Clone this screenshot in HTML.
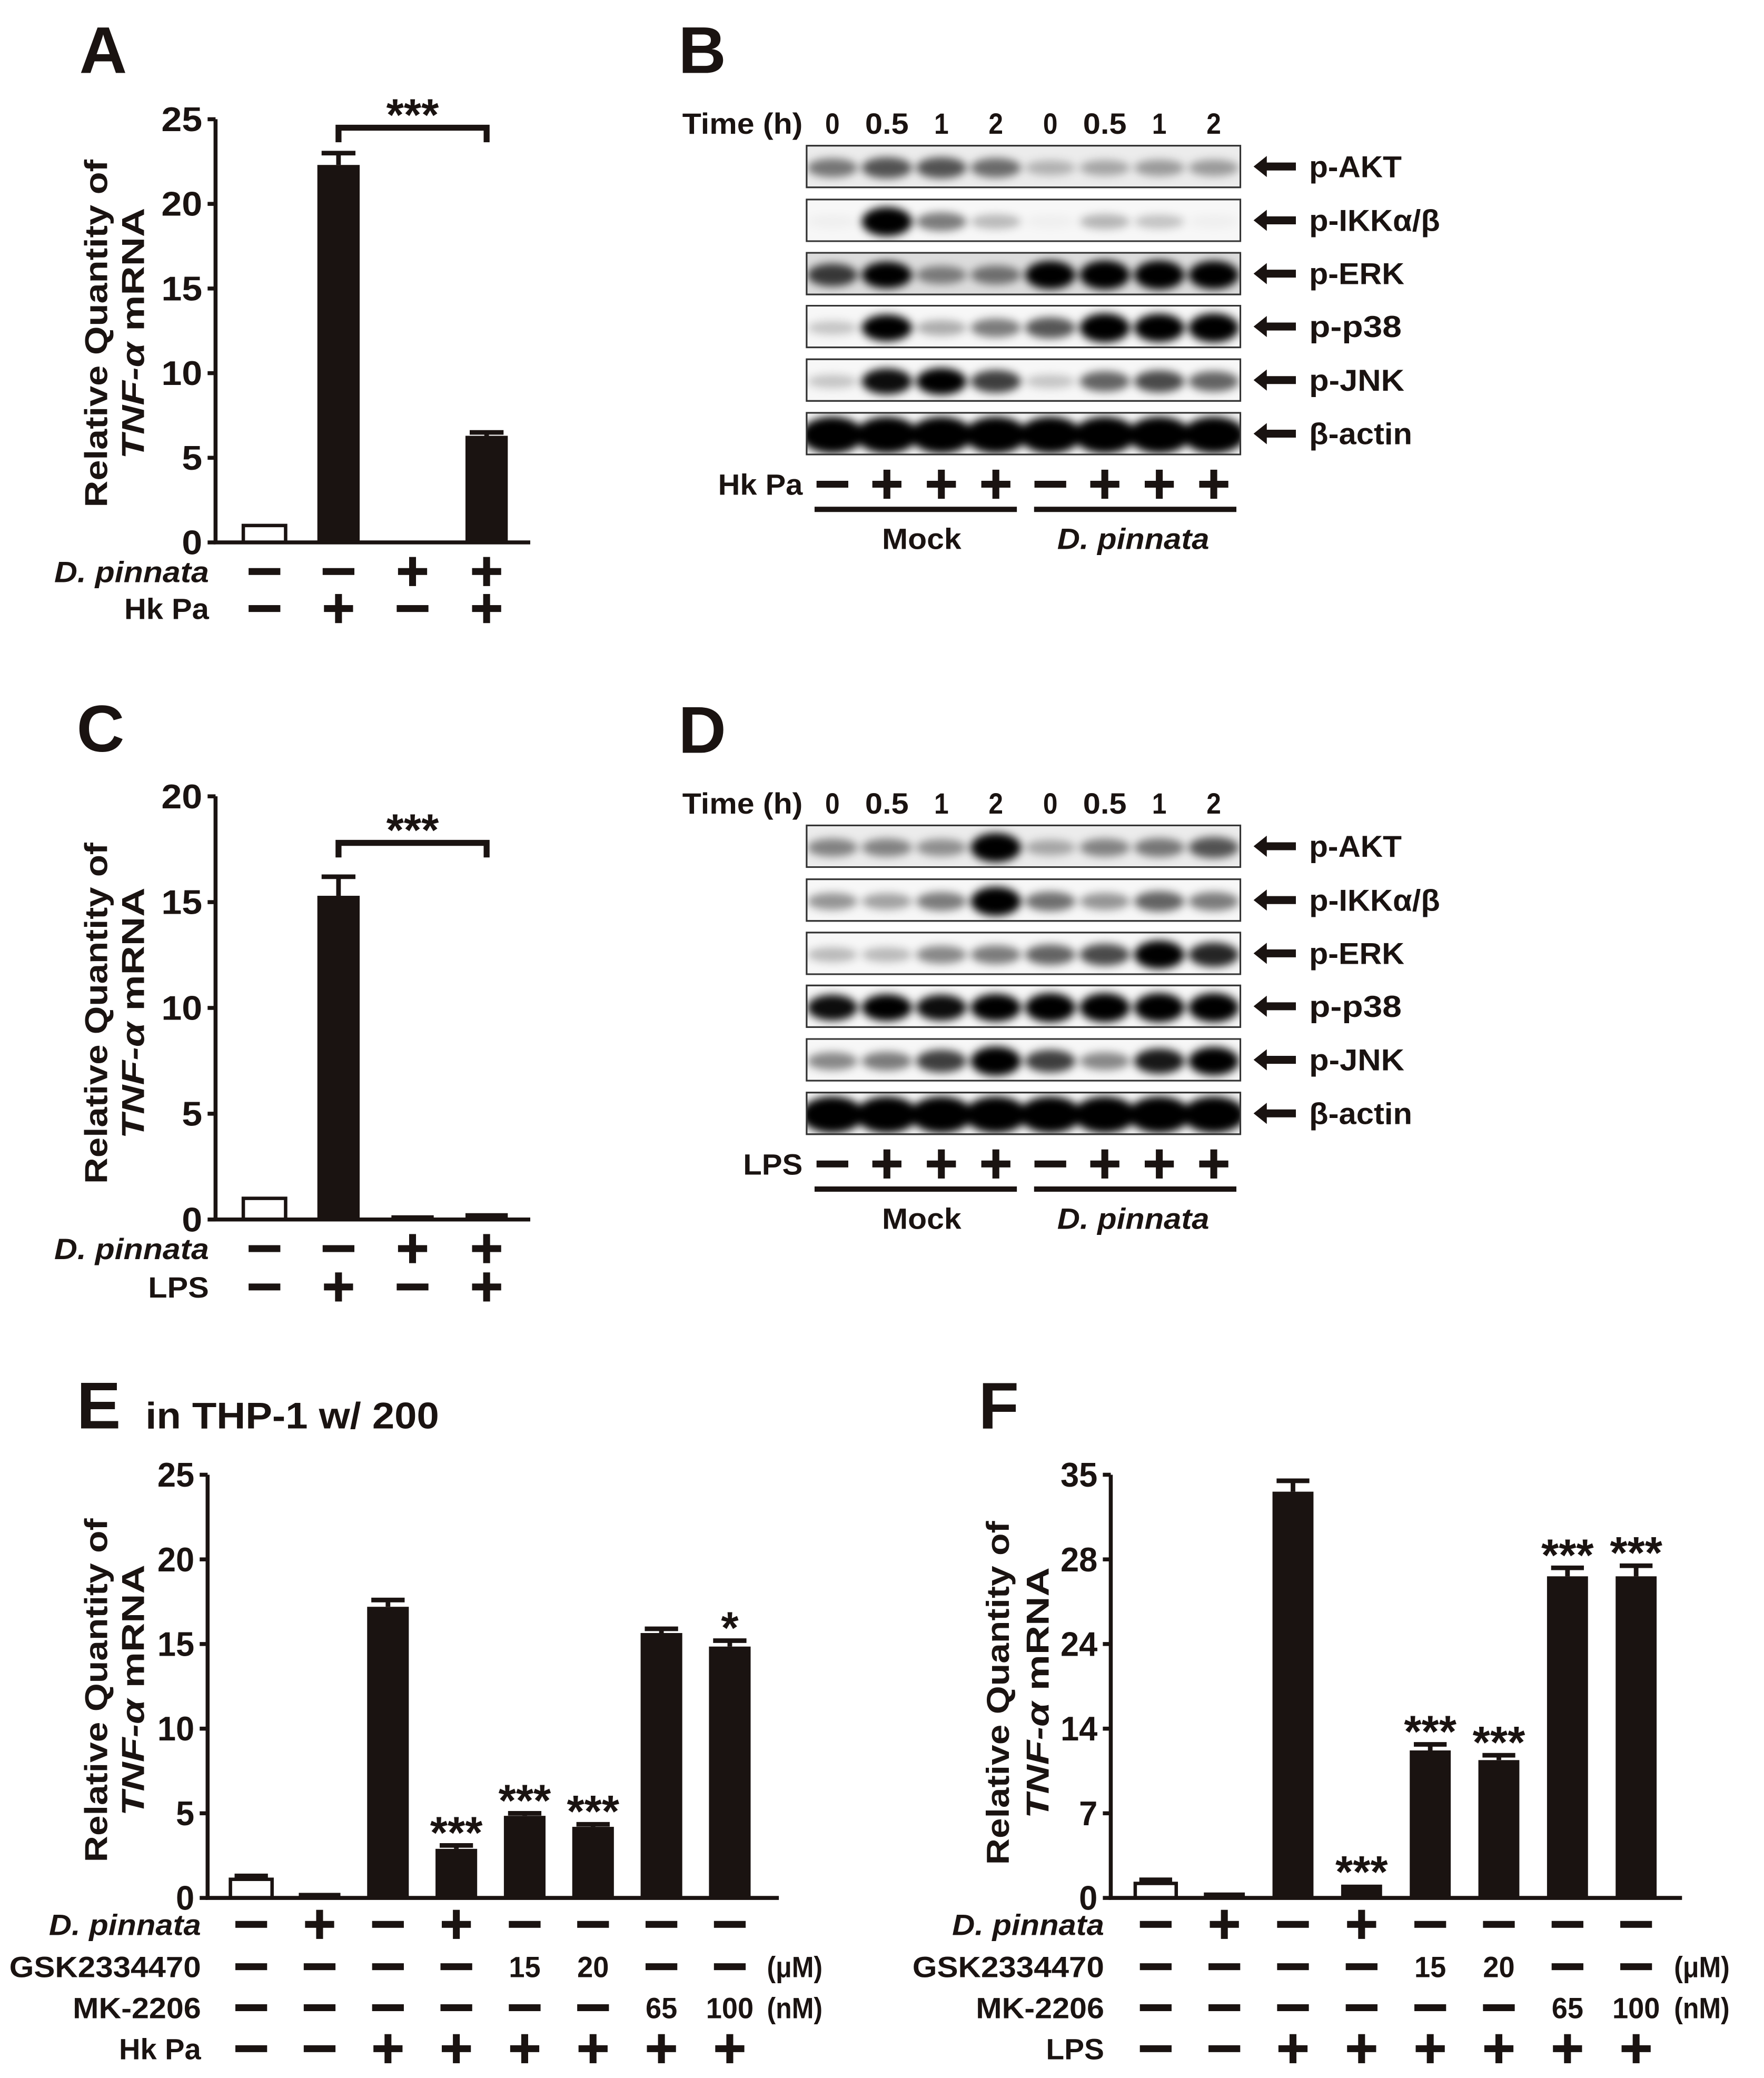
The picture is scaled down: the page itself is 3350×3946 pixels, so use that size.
<!DOCTYPE html>
<html><head><meta charset="utf-8">
<style>
html,body{margin:0;padding:0;background:#fff;}
svg{display:block;}
text{font-family:"Liberation Sans",sans-serif;fill:#1a1311;}
</style></head>
<body>
<svg id="fig" xmlns="http://www.w3.org/2000/svg" width="3350" height="3946" viewBox="0 0 1334 1571">
<defs>
<filter id="blur" x="-50%" y="-100%" width="200%" height="300%"><feGaussianBlur stdDeviation="3.2"/></filter>
</defs>
</svg>
<script>
// ---------- data: panel A ----------
const aCategories = ['1','2','3','4'];
const aValues = [1.0, 22.3, 0.1, 6.3];
const aErrors = [0, 0.7, 0, 0.2];
const aTicks = [0,5,10,15,20,25];
const aTickLabels = ['0','5','10','15','20','25'];
const aPinnata = ['-','-','+','+'];
const aHkPa = ['-','+','-','+'];
// ---------- data: panel C ----------
const cValues = [1.0, 15.3, 0.2, 0.3];
const cErrors = [0, 0.9, 0, 0];
const cTicks = [0,5,10,15,20];
const cTickLabels = ['0','5','10','15','20'];
const cPinnata = ['-','-','+','+'];
const cLPS = ['-','+','-','+'];
// ---------- data: panel E ----------
const eValues = [1.1, 0.3, 17.2, 2.9, 4.85, 4.2, 15.65, 14.85];
const eErrors = [0.2, 0, 0.4, 0.2, 0.15, 0.15, 0.25, 0.35];
const eStars = ['', '', '', '***', '***', '***', '', '*'];
const eTicks = [0,5,10,15,20,25];
const eTickLabels = ['0','5','10','15','20','25'];
const ePinnata = ['-','+','-','+','-','-','-','-'];
const eGSK = ['-','-','-','-','15','20','-','-'];
const eMK = ['-','-','-','-','-','-','65','100'];
const eHkPa = ['-','-','+','+','+','+','+','+'];
// ---------- data: panel F ----------
const fValues = [1.2, 0.45, 33.6, 1.1, 12.2, 11.4, 27.2, 27.2];
const fErrors = [0.3, 0, 0.9, 0, 0.5, 0.4, 0.4, 0.5];
const fStars = ['', '', '', '***', '***', '***', '***', '***'];
const fTicks = [0,7,14,24,28,35];
const fTickLabels = ['0','7','14','24','28','35'];
const fPinnata = ['-','+','-','+','-','-','-','-'];
const fGSK = ['-','-','-','-','15','20','-','-'];
const fMK = ['-','-','-','-','-','-','65','100'];
const fLPS = ['-','-','+','+','+','+','+','+'];
// ---------- data: blots ----------
const blotLabels = ['p-AKT','p-IKKα/β','p-ERK','p-p38','p-JNK','β-actin'];
const timeLabels = ['0','0.5','1','2','0','0.5','1','2'];
const bAKT = [0.35,0.5,0.5,0.4,0.1,0.15,0.2,0.2];
const bIKK = [0.02,1,0.35,0.1,0.02,0.12,0.06,0.02];
const bERK = [0.6,0.85,0.3,0.35,0.95,1,1,0.95];
const bP38 = [0.05,0.85,0.15,0.35,0.5,1,0.95,1];
const bJNK = [0.05,0.8,0.85,0.6,0.05,0.45,0.55,0.45];
const bActin = [1,1,1,1,1,1,1,1];
const bHkPa = ['-','+','+','+','-','+','+','+'];
const dAKT = [0.3,0.3,0.25,1,0.15,0.3,0.35,0.5];
const dIKK = [0.25,0.2,0.35,1,0.4,0.25,0.45,0.35];
const dERK = [0.1,0.1,0.3,0.35,0.45,0.55,0.95,0.7];
const dP38 = [0.8,0.85,0.8,0.9,1,1,1,1];
const dJNK = [0.3,0.35,0.6,1,0.6,0.3,0.75,0.95];
const dActin = [1,1,1,1,1,1,1,1];
const dLPS = ['-','+','+','+','-','+','+','+'];

const svg = document.getElementById('fig');
const NS = 'http://www.w3.org/2000/svg';
const INK = '#1a1311';
function mk(tag, attrs, parent) {
  const e = document.createElementNS(NS, tag);
  for (const k in attrs) e.setAttribute(k, attrs[k]);
  (parent || svg).appendChild(e);
  return e;
}
function txt(s, x, y, size, opts, parent) {
  opts = opts || {};
  const t = mk('text', {x: x, y: y, 'font-size': size, 'font-weight': opts.weight || 'bold',
    'text-anchor': opts.anchor || 'start'}, parent);
  if (opts.italic) t.setAttribute('font-style', 'italic');
  if (opts.len) { t.setAttribute('textLength', opts.len); t.setAttribute('lengthAdjust', 'spacingAndGlyphs'); }
  if (opts.transform) t.setAttribute('transform', opts.transform);
  t.textContent = s;
  return t;
}
function sign(s, cx, cy, parent, fs) {
  const g = mk('g', {}, parent);
  if (s === '-') {
    mk('rect', {x: cx-12, y: cy-2.6, width: 24, height: 5.2, fill: INK}, g);
    
    
  } else if (s === '+') {
    mk('rect', {x: cx-11, y: cy-2.6, width: 22, height: 5.2, fill: INK}, g);
    mk('rect', {x: cx-2.6, y: cy-11, width: 5.2, height: 22, fill: INK}, g);
    
    
  } else {
    const t = txt(s, cx, cy+8, fs || 22, {anchor: 'middle', len: s.length*12}, g);
    
    
  }
}
function panelLetter(s, x, y) {
  const t = txt(s, x, y, 50, {});
  
  
}
function yTitle(cx1, cx2, cy, len1, len2) {
  const g = mk('g', {});
  
  
  txt('Relative Quantity of', cx1, cy, 24, {anchor: 'middle', len: len1, transform: 'rotate(-90 ' + cx1 + ' ' + cy + ')'}, g).setAttribute('dy', '9');
  const t2 = mk('text', {x: cx2, y: cy, dy: 9, 'font-size': 24, 'font-weight': 'bold', 'text-anchor': 'middle',
    textLength: len2, lengthAdjust: 'spacingAndGlyphs', transform: 'rotate(-90 ' + cx2 + ' ' + cy + ')'}, g);
  const ts1 = mk('tspan', {'font-style': 'italic'}, t2); ts1.textContent = 'TNF-α';
  const ts2 = mk('tspan', {}, t2); ts2.textContent = ' mRNA';
}
function linScale(d0, d1, p0, p1) { return v => p0 + (v - d0) / (d1 - d0) * (p1 - p0); }
function pieceScale(ticks, p0, p1) {
  return v => {
    const n = ticks.length - 1, step = (p1 - p0) / n;
    for (let i = 0; i < n; i++) {
      if (v <= ticks[i+1] || i === n-1) return p0 + (i + (v - ticks[i]) / (ticks[i+1] - ticks[i])) * step;
    }
  };
}

function barChart(c) {
  const g = mk('g', {});
  
  
  const y = c.y;
  c.values.forEach((v, i) => {
    const cx = c.x0 + c.first + i * c.step;
    const top = y(v), base = y(0);
    const white = i === 0;
    const r = mk('rect', {x: cx - c.bw/2, y: top, width: c.bw, height: Math.max(base - top, 1.5),
      fill: white ? '#fff' : INK, stroke: INK, 'stroke-width': white ? 2.6 : 0}, g);
    
    
    const e = c.errors[i];
    if (e > 0) {
      const et = y(v + e);
      const eb = mk('path', {d: 'M' + cx + ' ' + top + 'V' + et + 'M' + (cx - c.bw*0.4) + ' ' + et + 'H' + (cx + c.bw*0.4),
        stroke: INK, 'stroke-width': 3.5, fill: 'none'}, g);
      
      
    }
    if (c.stars && c.stars[i]) {
      const s = txt(c.stars[i], cx, y(v + e) + 2, 34, {anchor: 'middle'}, g);
      
      
    }
  });
  const ax = mk('path', {d: 'M' + c.x0 + ' ' + y(c.ticks[c.ticks.length-1]) + 'V' + y(0) + 'H' + c.x1,
    stroke: INK, 'stroke-width': 3, fill: 'none'}, g);
  
  
  c.ticks.forEach((t, i) => {
    const ty = y(t);
    mk('line', {x1: c.x0 - 6, x2: c.x0, y1: ty, y2: ty, stroke: INK, 'stroke-width': 3}, g);
    const l = txt(c.tickLabels[i], c.x0 - 10, ty + 9, 26, {anchor: 'end', len: c.tickLabels[i].length * (c.narrow ? 14 : 15.5)}, g);
    
    
  });
  c.rows.forEach((row, ri) => {
    const ry = c.rowY[ri];
    const lab = txt(row.label, c.x0 - 5, ry + 8, 22, {anchor: 'end', italic: row.italic, len: row.len}, g);
    
    
    row.vals.forEach((s, i) => sign(s, c.x0 + c.first + i * c.step, ry, g));
    if (row.unit) {
      const u = txt(row.unit, c.unitX, ry + 8, 22, {len: row.unit.length * 10.5}, g);
      
      
    }
  });
  return g;
}

function bracket(c, i1, i2, level, stars) {
  const x1 = c.x0 + c.first + i1 * c.step, x2 = c.x0 + c.first + i2 * c.step;
  const yy = c.y(level);
  const p = mk('path', {d: 'M' + x1 + ' ' + (yy + 11) + 'V' + yy + 'H' + x2 + 'V' + (yy + 11), stroke: INK, 'stroke-width': 4.5, fill: 'none'});
  
  
  const s = txt(stars, (x1 + x2) / 2, yy + 2, 34, {anchor: 'middle'});
  
  
}

// ----- Panel A -----
panelLetter('A', 60, 55);
yTitle(72, 100, 252, 263, 190);
const cfgA = {name: 'chart-a', x0: 163, x1: 401, first: 37, step: 56, bw: 32, values: aValues, errors: aErrors,
  ticks: aTicks, tickLabels: aTickLabels, y: linScale(0, 25, 410, 90),
  rows: [{label: 'D. pinnata', italic: true, vals: aPinnata, len: 117}, {label: 'Hk Pa', vals: aHkPa, len: 64}], rowY: [432, 460]};
barChart(cfgA);
bracket(cfgA, 1, 3, 24.5, '***');

// ----- Panel C -----
panelLetter('C', 58, 568);
yTitle(72, 100, 766, 258, 190);
const cfgC = {name: 'chart-c', x0: 163, x1: 401, first: 37, step: 56, bw: 32, values: cValues, errors: cErrors,
  ticks: cTicks, tickLabels: cTickLabels, y: linScale(0, 20, 922, 602),
  rows: [{label: 'D. pinnata', italic: true, vals: cPinnata, len: 117}, {label: 'LPS', vals: cLPS, len: 46}], rowY: [944, 973]};
barChart(cfgC);
bracket(cfgC, 1, 3, 17.8, '***');

// ----- Panel E -----
panelLetter('E', 58, 1080);
const et = txt('in THP-1 w/ 200', 110, 1080, 28, {len: 222});


yTitle(72, 100, 1278, 260, 190);
barChart({name: 'chart-e', x0: 157, x1: 589, first: 33, step: 51.7, bw: 31.5, values: eValues, errors: eErrors, stars: eStars,
  ticks: eTicks, tickLabels: eTickLabels, y: linScale(0, 25, 1435, 1115), narrow: true, unitX: 580,
  rows: [{label: 'D. pinnata', italic: true, vals: ePinnata, len: 115},
         {label: 'GSK2334470', vals: eGSK, len: 145, unit: '(μM)'},
         {label: 'MK-2206', vals: eMK, len: 97, unit: '(nM)'},
         {label: 'Hk Pa', vals: eHkPa, len: 62}], rowY: [1455, 1487, 1518, 1549]});

// ----- Panel F -----
panelLetter('F', 740, 1080);
yTitle(754, 784, 1280, 260, 190);
barChart({name: 'chart-f', x0: 840, x1: 1272, first: 34, step: 51.9, bw: 31, values: fValues, errors: fErrors, stars: fStars,
  ticks: fTicks, tickLabels: fTickLabels, y: pieceScale(fTicks, 1435, 1115), narrow: true, unitX: 1266,
  rows: [{label: 'D. pinnata', italic: true, vals: fPinnata, len: 115},
         {label: 'GSK2334470', vals: fGSK, len: 145, unit: '(μM)'},
         {label: 'MK-2206', vals: fMK, len: 97, unit: '(nM)'},
         {label: 'LPS', vals: fLPS, len: 44}], rowY: [1455, 1487, 1518, 1549]});

// ----- Blots -----
function blot(name, oy, strips, treatLabel, treat, letter) {
  panelLetter(letter, 513, 55 + oy);
  const g = mk('g', {});
  
  
  const lanes = i => 629.5 + i * 41.2;
  const tl = txt('Time (h)', 516, 101 + oy, 22, {len: 91}, g);
  
  
  timeLabels.forEach((s, i) => {
    const t = txt(s, lanes(i), 101 + oy, 22, {anchor: 'middle', len: s.length * 11}, g);
    
    
  });
  const stripTop = [110, 150.7, 191, 231, 271.5, 312];
  strips.forEach((vals, si) => {
    const top = stripTop[si] + oy, h = 31.5;
    const sg = mk('g', {}, g);
    
    
    const bgShade = si === 2 && letter === 'B' ? '#dcdcdc' : (si === 0 ? '#ececec' : '#f7f7f7');
    mk('rect', {x: 610, y: top, width: 328, height: h, fill: bgShade, stroke: '#333', 'stroke-width': 1.2}, sg);
    const clip = 'clip' + letter + si;
    const cp = mk('clipPath', {id: clip}, sg);
    mk('rect', {x: 610, y: top, width: 328, height: h}, cp);
    const bands = mk('g', {'clip-path': 'url(#' + clip + ')'}, sg);
    const bg = mk('g', {filter: 'url(#blur)'}, bands);
    vals.forEach((v, i) => {
      const big = si === 5 ? 1.25 : 1;
      const e = mk('ellipse', {cx: lanes(i), cy: top + h/2 + 1, rx: 19 * big, ry: (5 + 6 * v) * big, fill: '#000', 'fill-opacity': Math.min(1, 0.15 + v)}, bg);
      
      
      if (v < 0.04) e.setAttribute('fill-opacity', 0.03);
    });
    mk('rect', {x: 610, y: top, width: 328, height: h, fill: 'none', stroke: '#333', 'stroke-width': 1.2}, sg);
    const ay = top + h/2;
    mk('path', {d: 'M948 ' + ay + 'l10 -8v5h22v6h-22v5z', fill: INK}, sg);
    const lbl = blotLabels[si];
    const lt = txt(lbl, 990, ay + 8, 23, {weight: 'bold', len: {0: 70, 1: 99, 2: 72, 3: 70, 4: 72, 5: 78}[si]}, sg);
    
    
  });
  const tr = txt(treatLabel, 607, 374 + oy, 22, {anchor: 'end', len: treatLabel.length === 3 ? 45 : 64}, g);
  
  
  treat.forEach((s, i) => sign(s, lanes(i), 366 + oy, g));
  mk('rect', {x: 616, y: 383 + oy, width: 153, height: 4, fill: INK}, g);
  mk('rect', {x: 782, y: 383 + oy, width: 153, height: 4, fill: INK}, g);
  const m = txt('Mock', 697, 415 + oy, 22, {anchor: 'middle', len: 60}, g);
  
  
  const d = txt('D. pinnata', 857, 415 + oy, 22, {anchor: 'middle', italic: true, len: 115}, g);
  
  
}
blot('western-blot-b', 0, [bAKT, bIKK, bERK, bP38, bJNK, bActin], 'Hk Pa', bHkPa, 'B');
blot('western-blot-d', 514, [dAKT, dIKK, dERK, dP38, dJNK, dActin], 'LPS', dLPS, 'D');
</script>
</body></html>
